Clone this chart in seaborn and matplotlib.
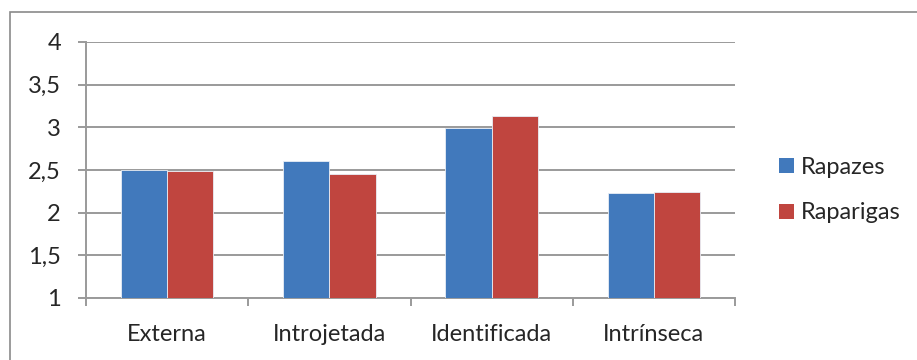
import matplotlib
matplotlib.use("Agg")
import matplotlib.pyplot as plt
import seaborn as sns
import pandas as pd
from matplotlib.patches import Rectangle

categories = ["Externa", "Introjetada", "Identificada", "Intrínseca"]
rapazes = [2.50, 2.61, 2.99, 2.23]
raparigas = [2.49, 2.45, 3.13, 2.24]
series = ["Rapazes", "Raparigas"]
colors = ["#4179bc", "#c0453f"]

df = pd.DataFrame({
    "categoria": categories * 2,
    "valor": rapazes + raparigas,
    "grupo": [series[0]] * len(categories) + [series[1]] * len(categories),
})

sns.set_style("white")
plt.rcParams["font.family"] = ["Lato", "DejaVu Sans"]

W, H = 917, 360
FS = 17
fig = plt.figure(figsize=(W / 100, H / 100), dpi=100)
ax = fig.add_axes([86 / W, 1 - 298 / H, (735 - 86) / W, (298 - 42) / H])

sns.barplot(data=df, x="categoria", y="valor", hue="grupo", palette=colors,
            saturation=1, width=0.57, ax=ax, edgecolor="#e8eef6",
            linewidth=0.6, zorder=3)

ax.set_ylim(1, 4)
ax.set_xlim(-0.5, len(categories) - 0.5)
ax.set_yticks([1, 1.5, 2, 2.5, 3, 3.5, 4])
ax.set_yticklabels(["1", "1,5", "2", "2,5", "3", "3,5", "4"])
ax.set_xticks(range(len(categories)))
ax.set_xticklabels(categories)
ax.set_xlabel("")
ax.set_ylabel("")

grid_c = "#9a9a9a"
ax.yaxis.grid(True, color=grid_c, linewidth=1.4, zorder=0)
ax.set_axisbelow(True)
for s in ["top", "right"]:
    ax.spines[s].set_visible(False)
for s in ["left", "bottom"]:
    ax.spines[s].set_color(grid_c)
    ax.spines[s].set_linewidth(1.4)

# y ticks outward on the left; x ticks at the category boundaries
ax.tick_params(axis="y", which="major", direction="out", length=6, width=1.4,
               color=grid_c, labelsize=FS, pad=12, left=True)
ax.tick_params(axis="x", which="major", length=0, labelsize=FS, pad=19)
ax.set_xticks([i - 0.5 for i in range(len(categories) + 1)], minor=True)
ax.tick_params(axis="x", which="minor", direction="out", length=6, width=1.4,
               color=grid_c, bottom=True)

leg = ax.legend(loc="center left", bbox_to_anchor=(770 / W, 1 - 190 / H),
                bbox_transform=fig.transFigure, borderaxespad=0,
                frameon=False, fontsize=FS, handlelength=0.6,
                handleheight=0.6, handletextpad=0.3, labelspacing=1.05)
for h in leg.legend_handles:
    h.set_edgecolor("none")

# outer chart frame
fig.patches.append(Rectangle((10 / W, -0.2), 1.2, 1.2 - 12 / H,
                             transform=fig.transFigure, fill=False,
                             edgecolor="#8a8a8a", linewidth=1.2))

fig.savefig("out.png", dpi=100)
